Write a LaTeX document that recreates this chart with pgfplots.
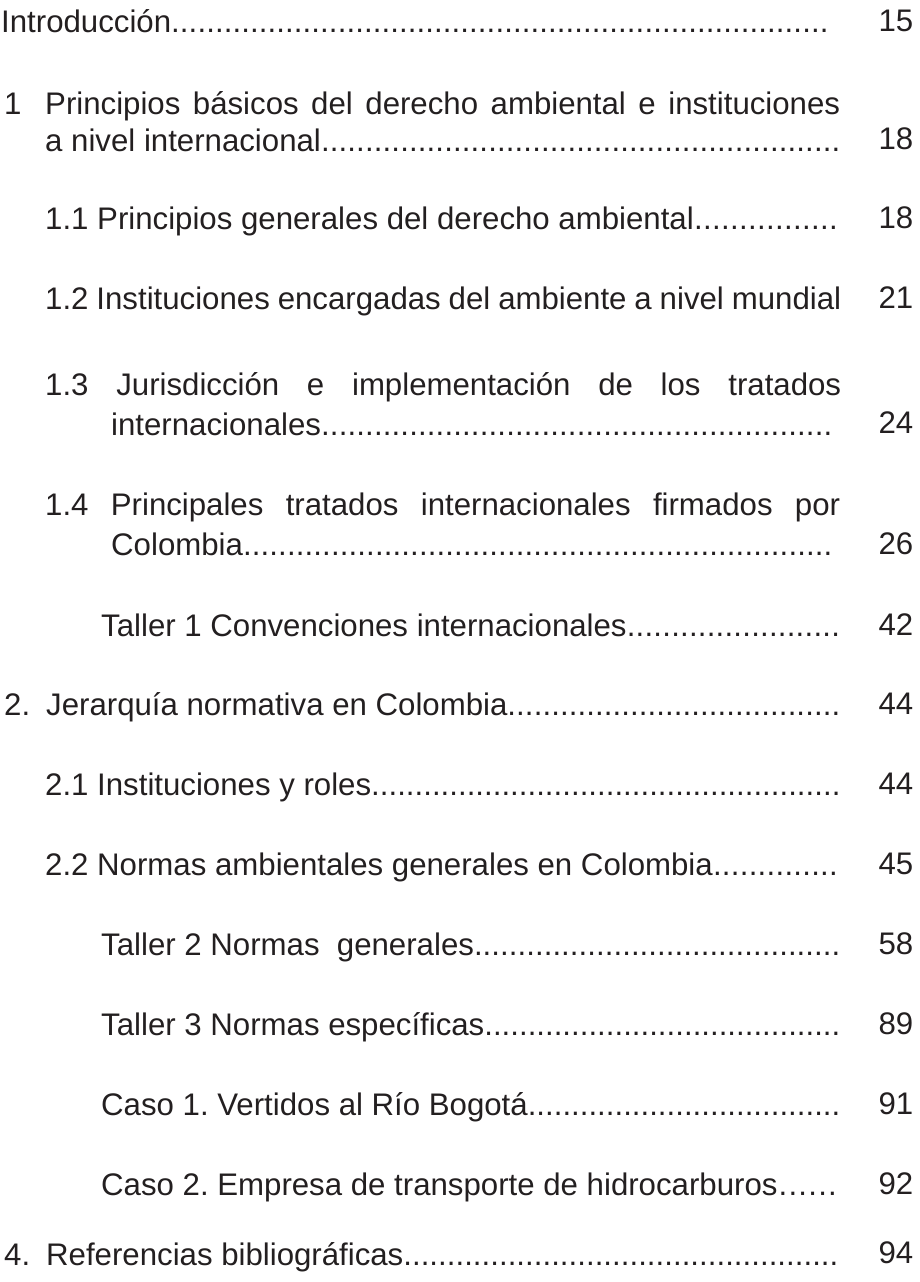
\documentclass[border=0pt]{standalone}
\usepackage{pgfplots}
\pgfplotsset{compat=1.18}
\usepackage{fontspec}
\setmainfont{Liberation Sans}
\definecolor{txt}{HTML}{231F20}
\newcommand{\lead}[4]{\node[anchor=base west,inner sep=0pt,text=txt] at (axis cs:#1,#2) {\hbox to #3pt{#4\xleaders\hbox{.}\hfill}};}
\newcommand{\just}[4]{\node[anchor=base west,inner sep=0pt,text=txt] at (axis cs:#1,#2) {\makebox[#3pt][s]{#4}};}
\newcommand{\plain}[3]{\node[anchor=base west,inner sep=0pt,text=txt] at (axis cs:#1,#2) {#3};}
\newcommand{\pnum}[2]{\node[anchor=base east,inner sep=0pt,text=txt] at (axis cs:913.5,#1) {#2};}
\begin{document}
\frenchspacing
\fontsize{31.2}{36}\selectfont
\begin{tikzpicture}
\begin{axis}[
  width=919pt, height=1282pt, scale only axis,
  xmin=0, xmax=919, ymin=0, ymax=1282, y dir=reverse,
  hide axis, clip=false,
]
\path (rel axis cs:0,0) rectangle (rel axis cs:1,1);
% Introduccion
\lead{1}{32}{827}{Introducción}
\pnum{31}{15}
% 1
\plain{4}{114}{1}
\just{45}{114}{795}{Principios básicos del derecho ambiental e instituciones}
\lead{45}{151}{795}{a nivel internacional}
\pnum{149}{18}
% 1.1
\lead{45}{229}{793}{1.1 Principios generales del derecho ambiental}
\pnum{228}{18}
% 1.2
\just{45}{309}{796}{1.2 Instituciones encargadas del ambiente a nivel mundial}
\pnum{308}{21}
% 1.3
\just{45}{395}{796}{1.3 Jurisdicción e implementación de los tratados}
\lead{111}{435}{721}{internacionales}
\pnum{433}{24}
% 1.4
\just{45}{515}{795}{1.4 Principales tratados internacionales firmados por}
\lead{111}{555}{721}{Colombia}
\pnum{554}{26}
% Taller 1
\lead{101}{636}{739}{Taller 1 Convenciones internacionales}
\pnum{635}{42}
% 2
\plain{4}{715}{2.}
\lead{46}{715}{794}{Jerarquía normativa en Colombia}
\pnum{714}{44}
% 2.1
\lead{45}{795}{795}{2.1 Instituciones y roles}
\pnum{794}{44}
% 2.2
\lead{45}{875}{793}{2.2 Normas ambientales generales en Colombia}
\pnum{874}{45}
% Taller 2
\lead{101}{955}{739}{Taller 2 Normas\ \ generales}
\pnum{954}{58}
% Taller 3
\lead{101}{1035}{739}{Taller 3 Normas específicas}
\pnum{1034}{89}
% Caso 1
\lead{101}{1115}{739}{Caso 1. Vertidos al Río Bogotá}
\pnum{1114}{91}
% Caso 2
\lead{101}{1195}{737}{Caso 2. Empresa de transporte de hidrocarburos}
\pnum{1194}{92}
% 4
\plain{4}{1265}{4.}
\lead{46}{1265}{792}{Referencias bibliográficas}
\pnum{1263}{94}
\end{axis}
\end{tikzpicture}
\end{document}
